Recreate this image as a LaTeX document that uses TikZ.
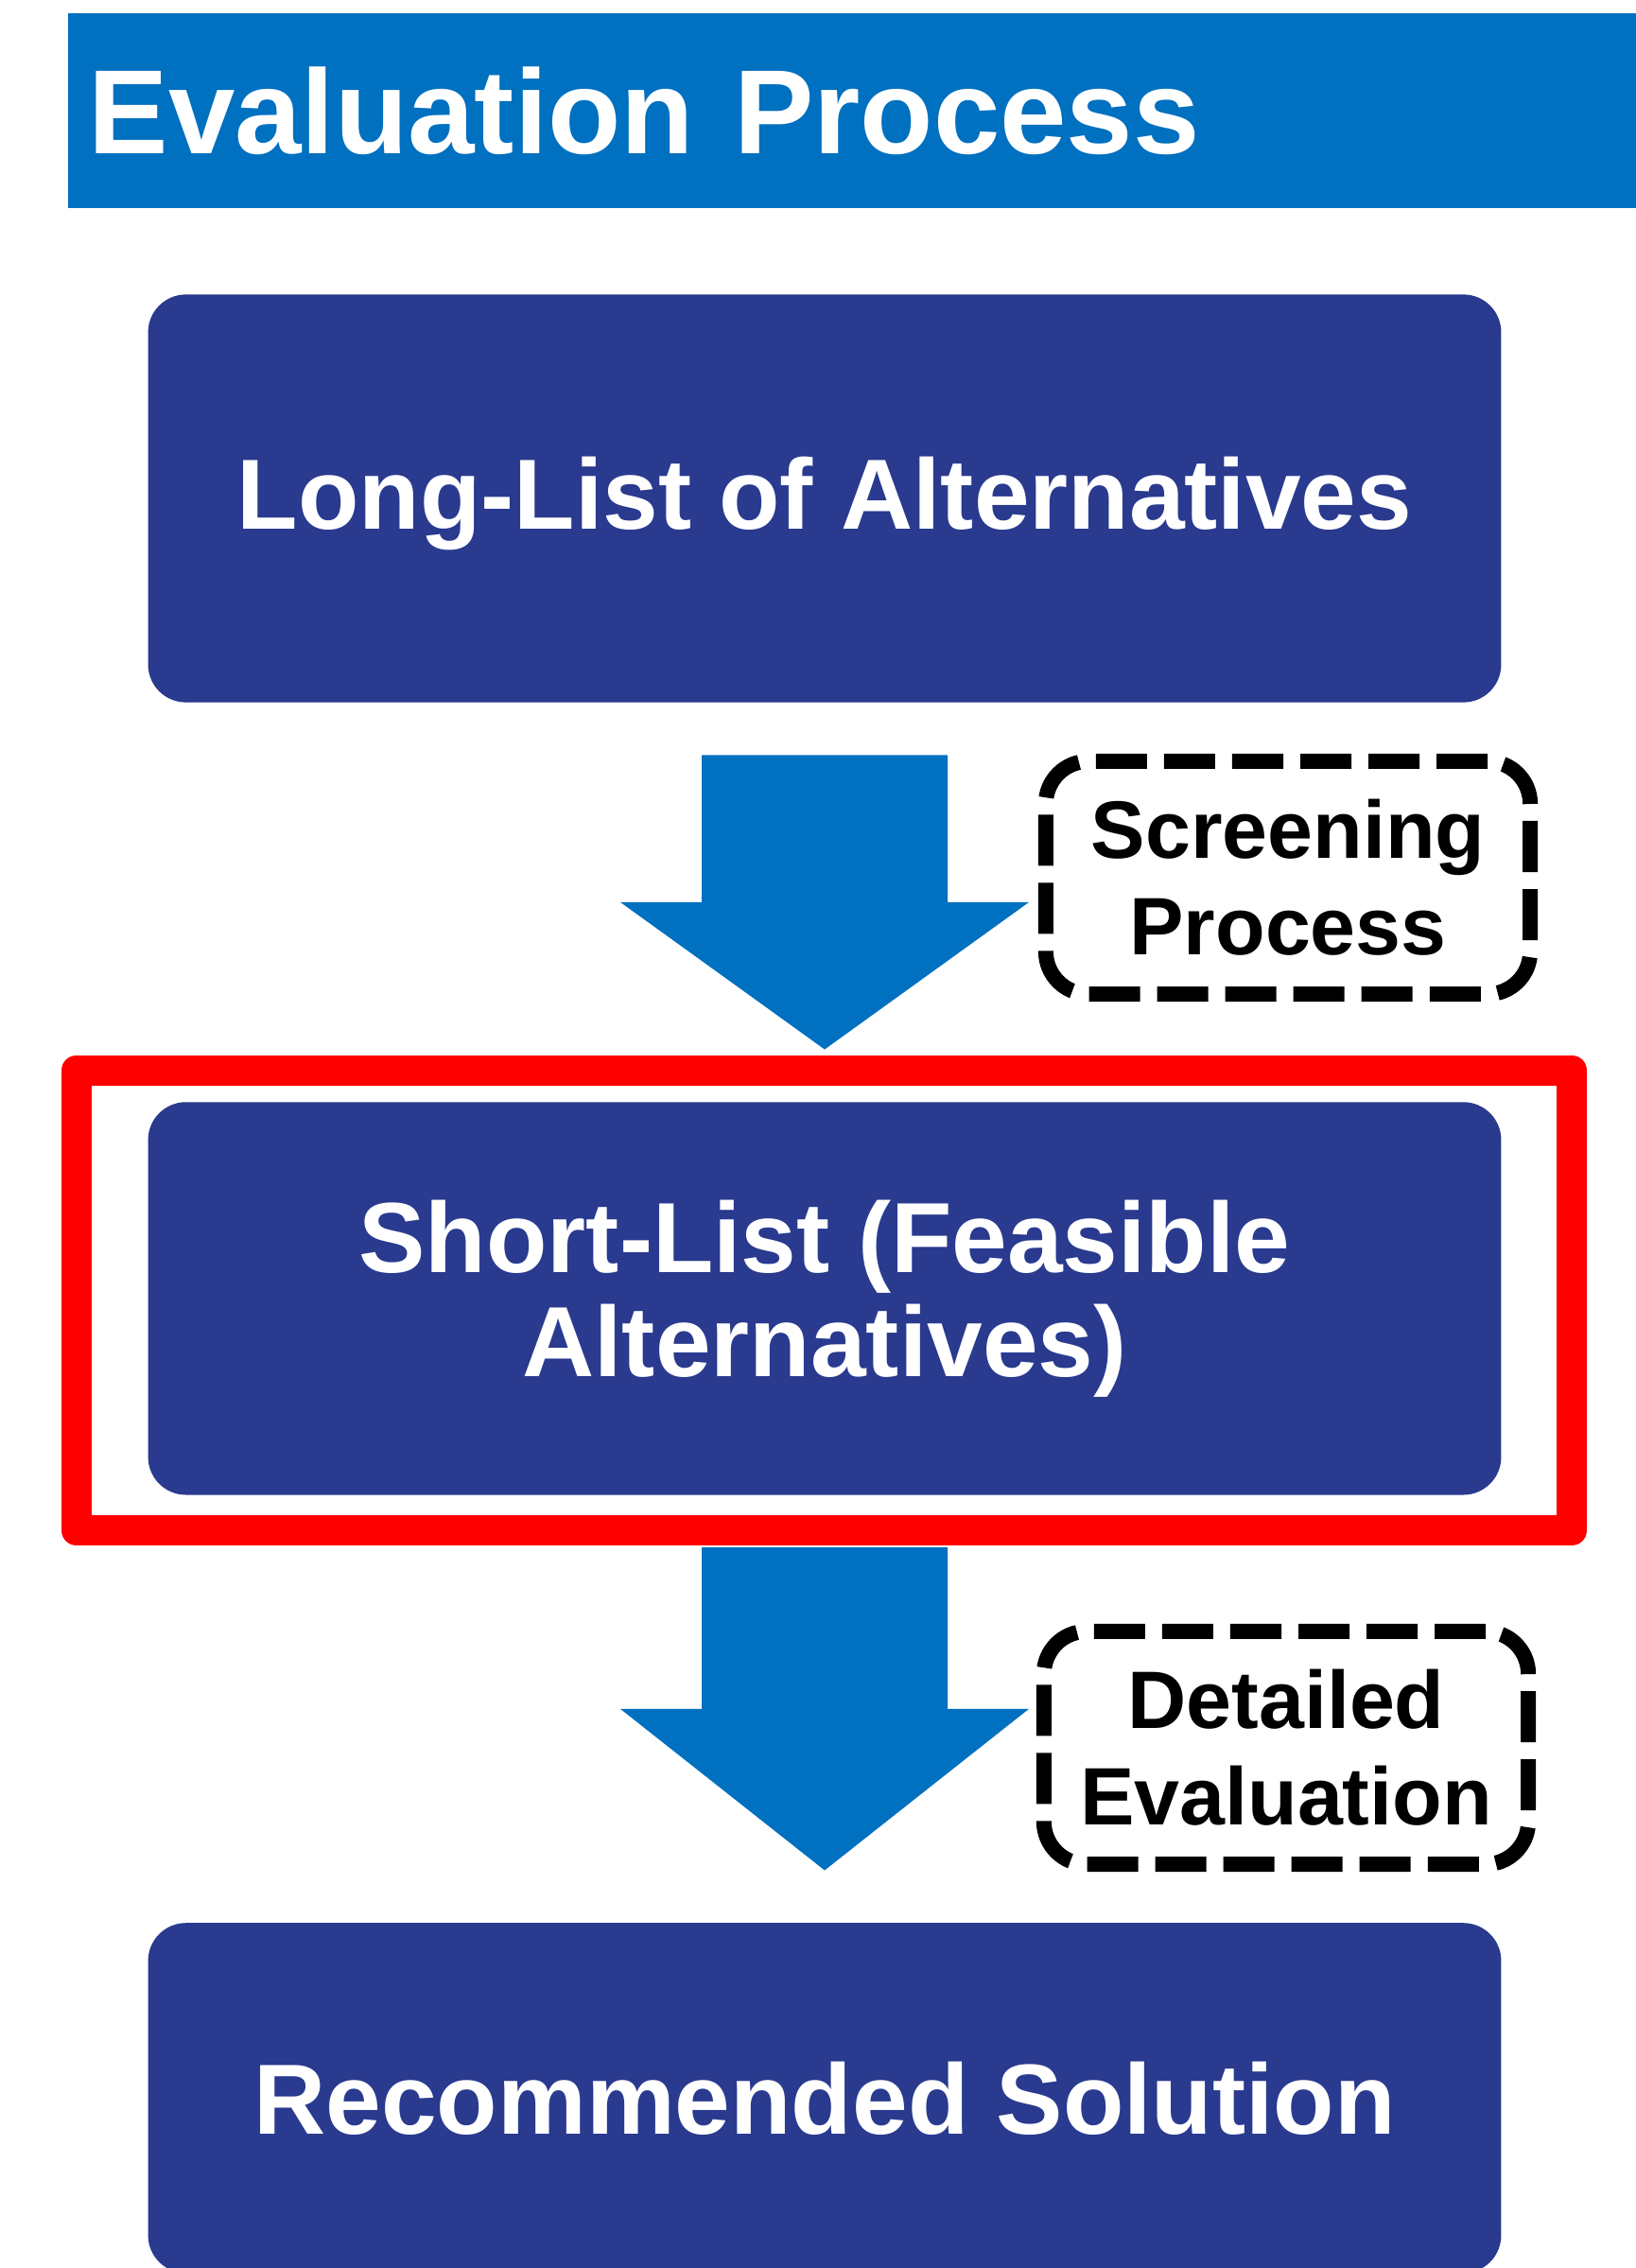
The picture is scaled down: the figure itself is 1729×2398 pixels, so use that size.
\documentclass[tikz,border=0pt]{standalone}
\usepackage{fontspec}
\setmainfont{Liberation Sans}
\usepackage{tikz}
\usetikzlibrary{positioning, calc}
\definecolor{titleblue}{RGB}{0,112,192}
\definecolor{boxblue}{RGB}{41,58,143}
\tikzstyle{titlebar} = [rectangle, fill=titleblue, text=white, text width=16.36cm, inner xsep=0.22cm, inner ysep=0pt, minimum height=2.06cm, align=left, font=\bfseries\fontsize{36}{43}\selectfont]
\tikzstyle{listbox} = [rectangle, rounded corners=0.4cm, fill=boxblue, text=white, minimum width=14.3cm, align=center, font=\bfseries\fontsize{30}{31.3}\selectfont]
\tikzstyle{stagelabel} = [rectangle, rounded corners=0.45cm, draw=black, line width=0.16cm, dash pattern=on 0.54cm off 0.18cm, minimum width=5.12cm, minimum height=2.46cm, align=center, font=\bfseries\fontsize{24.5}{29}\selectfont]
\tikzstyle{highlight} = [draw=red, line width=0.32cm, line join=round]
\tikzstyle{blockarrow} = [fill=titleblue]

\begin{document}
\begin{tikzpicture}[x=0.01cm, y=-0.01cm]
	\useasboundingbox (0,0) rectangle (1729,2398);
	\node[titlebar, anchor=north west](title) at (71,13){Evaluation Process};

	\node[listbox, minimum height=4.31cm, text depth=0.11cm](long) at (872,527){Long-List of Alternatives};
	\node[listbox, minimum height=4.15cm, below=4.21cm of long](short){Short-List (Feasible\\Alternatives)};
	\node[listbox, minimum height=3.7cm, below=4.51cm of short](rec){Recommended Solution};

	\node[stagelabel](screen) at (1362,928){Screening\\Process};
	\node[stagelabel](detail) at (1360,1848){Detailed\\Evaluation};

	% red frame round the short-list
	\draw[highlight] ($(short.north west)+(-75,-33)$) rectangle ($(short.south east)+(74,37)$);

	% block arrows between the boxes
	\foreach \from/\to in {long/short, short/rec}{
		\coordinate (a) at ($(\from.south)+(0,55)$);
		\coordinate (b) at ($(\to.north)-(0,55)$);
		\coordinate (m) at ($(a)!0.5!(b)$);
		\fill[blockarrow] ($(a)+(-130,0)$) -- ($(a)+(130,0)$) -- ($(m)+(130,0)$) -- ($(m)+(216,0)$) -- (b) -- ($(m)+(-216,0)$) -- ($(m)+(-130,0)$) -- cycle;
	}
\end{tikzpicture}
\end{document}
